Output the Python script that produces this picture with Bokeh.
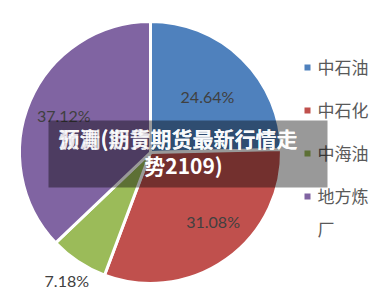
import numpy as np
from bokeh.plotting import figure
from bokeh.models import Range1d
from bokeh.core.properties import value
from bokeh.embed import file_html
from bokeh.resources import INLINE

categories = ["中石油", "中石化", "中海油", "地方炼厂"]
legend_labels = ["中石油", "中石化", "中海油", "地方炼\n厂"]
shares = [24.64, 31.08, 7.18, 37.12]
pct_labels = ["24.64%", "31.08%", "7.18%", "37.12%"]
colors = ["#4F81BD", "#C0504D", "#9BBB59", "#8064A2"]
title_a = "预测(沥青期货最新行情走"
title_b = "沥青(期货期货最新行情走"
title_line2 = "势2109)"

W, H = 376, 308
p = figure(width=W, height=H, output_backend="svg", toolbar_location=None,
           x_range=Range1d(0, W), y_range=Range1d(0, H), min_border=0)
p.axis.visible = False
p.grid.visible = False
p.outline_line_color = None
p.background_fill_color = "white"

cx, cy, R = 150, H - 152, 131
vals = np.array(shares)
frac = vals / vals.sum()
cum = np.concatenate([[0], np.cumsum(frac)])
start = np.pi / 2 - cum[:-1] * 2 * np.pi
end = np.pi / 2 - cum[1:] * 2 * np.pi
p.wedge(x=cx, y=cy, radius=R, start_angle=list(start), end_angle=list(end),
        direction="clock", fill_color=colors, line_color="white", line_width=3)

mid = (start + end) / 2
rf = [0.6, 0.72, 1.2, 0.72]
lx = [cx + R * r * np.cos(a) for r, a in zip(rf, mid)]
ly = [cy + R * r * np.sin(a) for r, a in zip(rf, mid)]
lx[0] += 2
lx[1] += 8; ly[1] += 8
lx[2] += 3; ly[2] += 3
p.text(x=lx, y=ly, text=pct_labels, text_align="center", text_baseline="middle",
       text_font=value("Lato"), text_font_size="16px", text_color="#404040")

# legend
leg_y = [H - 67 - i * 43 for i in range(len(categories))]
p.scatter(x=[307] * 4, y=leg_y, marker="square", size=6, fill_color=colors, line_color=None)
p.text(x=[317] * 4, y=[y + 14 for y in leg_y], text=legend_labels, text_align="left",
       text_baseline="top", text_font=value("Noto Sans CJK SC"), text_font_size="17px",
       text_color="#595959", text_line_height=1.35)

# overlay
p.quad(left=48, right=327, bottom=H - 187, top=H - 120, fill_color="black",
       fill_alpha=0.4, line_color=None)
for t in (title_a, title_b):
    p.text(x=[58], y=[H - 137], text=[t], text_align="left", text_baseline="middle",
           text_font=value("Noto Sans CJK SC"), text_font_size="21px",
           text_font_style="bold", text_color="white", text_alpha=0.85)
p.text(x=[183], y=[H - 164], text=[title_line2], text_align="center", text_baseline="middle",
       text_font=value("Noto Sans CJK SC"), text_font_size="21px",
       text_font_style="bold", text_color="white")

open("out.html", "w").write(file_html(p, INLINE))
